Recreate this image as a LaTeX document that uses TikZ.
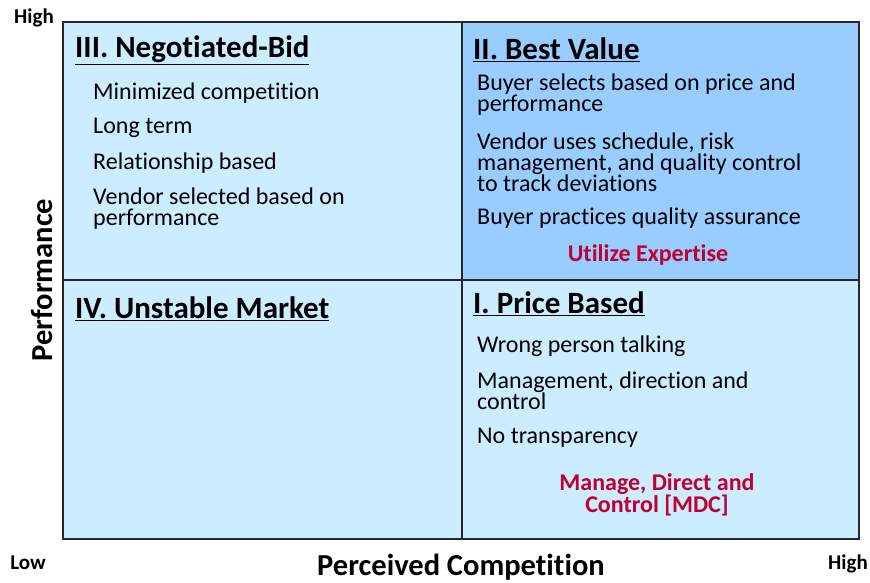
\documentclass[tikz,border=0pt]{standalone}
\usepackage{fontspec}
\setmainfont[Ligatures=NoCommon]{Carlito}
\definecolor{lightq}{RGB}{204,236,255}
\definecolor{bestq}{RGB}{153,204,255}
\definecolor{redtxt}{RGB}{192,0,48}
\definecolor{edge}{RGB}{40,40,40}
\begin{document}
\begin{tikzpicture}[x=1pt,y=-1pt,
  quad/.style={draw=edge,line width=1.2pt},
  ttl/.style={anchor=west,inner sep=0pt,font=\bfseries\fontsize{31}{33}\selectfont},
  item/.style={anchor=west,align=left,inner sep=0pt,font=\fontsize{24}{21}\selectfont},
  note/.style={align=center,inner sep=0pt,text=redtxt,font=\bfseries\fontsize{24}{22}\selectfont},
  axis/.style={inner sep=0pt,font=\bfseries\fontsize{30.5}{32}\selectfont},
  tick/.style={inner sep=0pt,font=\bfseries\fontsize{21}{22}\selectfont}]
\useasboundingbox (0,0) rectangle (870,583);
% quadrants
\path[quad,fill=lightq] (63,22) rectangle (462,280);
\path[quad,fill=bestq] (462,22) rectangle (859,280);
\path[quad,fill=lightq] (63,280) rectangle (462,539);
\path[quad,fill=lightq] (462,280) rectangle (859,539);
% III
\node[ttl] (t3) at (75,50) {\underline{III. Negotiated-Bid}};
\node[item] (a1) at (93,93) {Minimized competition};
\node[item] (a2) at (93,128) {Long term};
\node[item] (a3) at (93,163) {Relationship based};
\node[item] (a4) at (93,209) {Vendor selected based on\\performance};
% II
\node[ttl] (t2) at (473,50) {\underline{II. Best Value}};
\node[item] (b1) at (477,95) {Buyer selects based on price and\\performance};
\node[item] (b2) at (477,162) {Vendor uses schedule, risk\\management, and quality control\\to track deviations};
\node[item] (b3) at (477,218) {Buyer practices quality assurance};
\node[note] (b4) at (648,255) {Utilize Expertise};
% IV
\node[ttl] (t4) at (75,309) {\underline{IV. Unstable Market}};
% I
\node[ttl] (t1) at (473,304) {\underline{I. Price Based}};
\node[item] (c1) at (477,346) {Wrong person talking};
\node[item] (c2) at (477,391) {Management, direction and\\control};
\node[item] (c3) at (477,438) {No transparency};
\node[note] (c4) at (657,495) {Manage, Direct and\\Control [MDC]};
% axes
\node[axis,rotate=90] (py) at (42,280) {Performance};
\node[axis] (px) at (461,567) {Perceived Competition};
\node[tick] (hy) at (34,18) {High};
\node[tick] (lo) at (28,563) {Low};
\node[tick] (hx) at (848,564) {High};
\end{tikzpicture}
\end{document}
